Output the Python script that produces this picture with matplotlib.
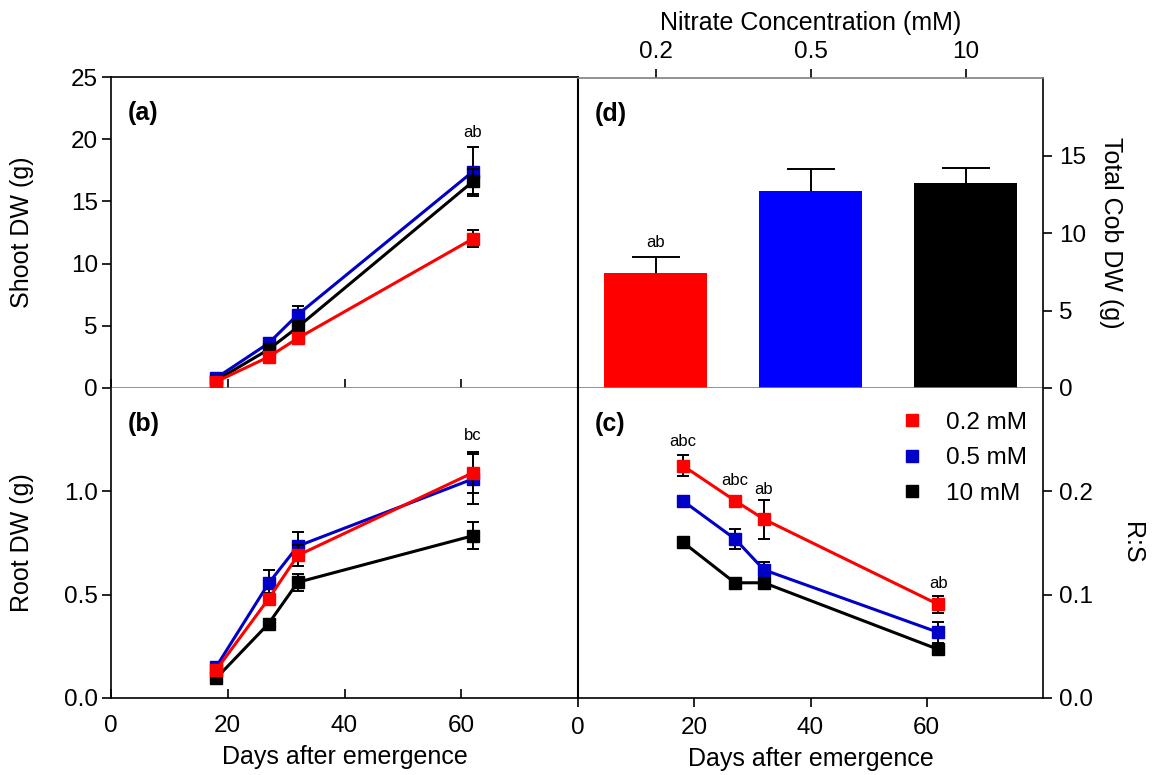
import matplotlib
matplotlib.use("Agg")
import matplotlib.pyplot as plt
from matplotlib.lines import Line2D

plt.rcParams['font.family'] = ['Liberation Sans', 'DejaVu Sans']

# ---------------- data ----------------
days = [18, 27, 32, 62]
series_labels = ['0.2 mM', '0.5 mM', '10 mM']
line_colors = ['#FF0000', '#0000C8', '#000000']

shoot_red = [0.5, 2.5, 4.0, 12.0]
shoot_red_err = [0.1, 0.3, 0.3, 0.7]
shoot_blue = [0.8, 3.6, 5.9, 17.4]
shoot_blue_err = [0.1, 0.3, 0.7, 2.0]
shoot_black = [0.6, 3.1, 4.9, 16.6]
shoot_black_err = [0.1, 0.3, 0.5, 1.0]

root_red = [0.135, 0.48, 0.69, 1.09]
root_red_err = [0.02, 0.03, 0.05, 0.10]
root_blue = [0.15, 0.555, 0.735, 1.06]
root_blue_err = [0.02, 0.065, 0.07, 0.12]
root_black = [0.095, 0.36, 0.56, 0.785]
root_black_err = [0.01, 0.02, 0.04, 0.065]

rs_red = [0.225, 0.191, 0.173, 0.0905]
rs_red_err = [0.01, 0.004, 0.019, 0.008]
rs_blue = [0.191, 0.154, 0.124, 0.0635]
rs_blue_err = [0.003, 0.01, 0.008, 0.01]
rs_black = [0.151, 0.1115, 0.1115, 0.047]
rs_black_err = [0.003, 0.003, 0.003, 0.005]

conc_labels = ['0.2', '0.5', '10']
cob_values = [7.45, 12.7, 13.2]
cob_err = [1.0, 1.4, 1.0]
bar_colors = ['#FF0000', '#0000FF', '#000000']

# significance letters: (x, y, text)
shoot_letters = [(62, 20.5, 'ab')]
root_letters = [(62, 1.27, 'bc')]
rs_letters = [(18, 0.248, 'abc'), (27, 0.21, 'abc'), (32, 0.202, 'ab'), (62, 0.111, 'ab')]
cob_letters = [(0, 9.4, 'ab')]

# ---------------- figure ----------------
W, H = 1160, 775
fig = plt.figure(figsize=(W / 100, H / 100), dpi=100)

def box(l, r, t, b):
    return [l / W, 1 - b / H, (r - l) / W, (b - t) / H]

ax_a = fig.add_axes(box(111, 578, 77, 388))
ax_b = fig.add_axes(box(111, 578, 388, 698))
ax_d = fig.add_axes(box(578, 1043, 78, 388))
ax_c = fig.add_axes(box(578, 1043, 388, 698))

FS = 18      # axis labels
TS = 17.5    # tick labels
LW = 2.2
MS = 9

def draw_lines(ax, vals, errs):
    orders = [5, 3, 4]  # red on top, then black, then blue
    for v, e, c, z in zip(vals, errs, line_colors, orders):
        ax.errorbar(days, v, yerr=e, fmt='none', ecolor='black', elinewidth=1.4,
                    capsize=4.5, capthick=1.4, zorder=z - 0.5)
        ax.plot(days, v, color=c, lw=LW, marker='s', ms=MS, mec=c, mfc=c, zorder=z)

draw_lines(ax_a, [shoot_red, shoot_blue, shoot_black],
           [shoot_red_err, shoot_blue_err, shoot_black_err])
draw_lines(ax_b, [root_red, root_blue, root_black],
           [root_red_err, root_blue_err, root_black_err])
draw_lines(ax_c, [rs_red, rs_blue, rs_black],
           [rs_red_err, rs_blue_err, rs_black_err])

for ax, letters in [(ax_a, shoot_letters), (ax_b, root_letters), (ax_c, rs_letters)]:
    for x, y, t in letters:
        ax.text(x, y, t, ha='center', va='center', fontsize=12)

# --- panel a ---
ax_a.set_xlim(0, 80)
ax_a.set_ylim(0, 25)
ax_a.set_yticks([0, 5, 10, 15, 20, 25])
ax_a.set_xticks([0, 20, 40, 60])
ax_a.tick_params(axis='x', direction='in', length=6.5, width=1.2, labelbottom=False)
ax_a.tick_params(axis='y', direction='out', length=6.5, width=1.2, labelsize=TS, pad=3)
ax_a.set_ylabel('Shoot DW (g)', fontsize=FS)
ax_a.yaxis.set_label_coords(-0.165, 0.5)
ax_a.spines['bottom'].set_color('#7f7f7f')

# --- panel b ---
ax_b.set_xlim(0, 80)
ax_b.set_ylim(0, 1.5)
ax_b.set_yticks([0.0, 0.5, 1.0])
ax_b.set_yticklabels(['0.0', '0.5', '1.0'])
ax_b.set_xticks([0, 20, 40, 60])
ax_b.tick_params(axis='x', direction='in', length=6.5, width=1.2, labelsize=TS, pad=12)
ax_b.tick_params(axis='y', direction='out', length=6.5, width=1.2, labelsize=TS, pad=3)
ax_b.set_ylabel('Root DW (g)', fontsize=FS)
ax_b.yaxis.set_label_coords(-0.165, 0.5)
ax_b.set_xlabel('Days after emergence', fontsize=FS, labelpad=6)
ax_b.spines['top'].set_visible(False)

# --- panel c ---
ax_c.set_xlim(0, 80)
ax_c.set_ylim(0, 0.3)
ax_c.set_xticks([0, 20, 40, 60])
ax_c.set_yticks([0.0, 0.1, 0.2])
ax_c.set_yticklabels(['0.0', '0.1', '0.2'])
ax_c.yaxis.tick_right()
ax_c.yaxis.set_label_position('right')
ax_c.tick_params(axis='x', direction='out', length=6.5, width=1.2, labelsize=TS, pad=7)
ax_c.tick_params(axis='y', direction='out', length=6.5, width=1.2, labelsize=TS, pad=5)
ax_c.set_ylabel('R:S', fontsize=FS, rotation=270, va='bottom')
ax_c.yaxis.set_label_coords(1.165, 0.5)
ax_c.set_xlabel('Days after emergence', fontsize=FS, labelpad=6)
ax_c.spines['top'].set_visible(False)
ax_c.spines['left'].set_linewidth(1.5)

handles = [Line2D([], [], ls='none', marker='s', ms=8, mfc=c, mec=c) for c in line_colors]
ax_c.legend(handles, series_labels, loc='upper right', bbox_to_anchor=(0.997, 0.97),
            frameon=False, fontsize=TS, handlelength=1.0, handletextpad=0.9,
            labelspacing=0.55, borderaxespad=0.2)

# --- panel d ---
xpos = list(range(len(cob_values)))
ax_d.bar(xpos, cob_values, width=0.66, color=bar_colors, zorder=2)
eb = ax_d.errorbar(xpos, cob_values, yerr=[[0] * len(cob_err), cob_err], fmt='none',
                   ecolor='black', elinewidth=1.4, capsize=17, capthick=1.4, zorder=1)
# keep only the upper caps (one-sided error bars)
for cl in eb[1]:
    if list(cl.get_ydata()) == list(cob_values):
        cl.set_visible(False)
for x, y, t in cob_letters:
    ax_d.text(x, y, t, ha='center', va='center', fontsize=12)
ax_d.set_xlim(-0.5, 2.5)
ax_d.set_ylim(0, 20)
ax_d.set_yticks([0, 5, 10, 15])
ax_d.yaxis.tick_right()
ax_d.yaxis.set_label_position('right')
ax_d.xaxis.tick_top()
ax_d.xaxis.set_label_position('top')
ax_d.set_xticks(xpos)
ax_d.set_xticklabels(conc_labels)
ax_d.tick_params(axis='x', direction='out', length=6.5, width=1.2, labelsize=TS, pad=4)
ax_d.tick_params(axis='y', direction='out', length=6.5, width=1.2, labelsize=TS, pad=5)
ax_d.set_xlabel('Nitrate Concentration (mM)', fontsize=FS, labelpad=8)
ax_d.set_ylabel('Total Cob DW (g)', fontsize=FS, rotation=270, va='bottom')
ax_d.yaxis.set_label_coords(1.12, 0.5)
ax_d.spines['top'].set_color('#7f7f7f')
ax_d.spines['bottom'].set_color('#7f7f7f')
ax_d.spines['left'].set_linewidth(1.5)

for ax in (ax_a, ax_b, ax_c, ax_d):
    for s in ax.spines.values():
        if s.get_linewidth() < 1.5:
            s.set_linewidth(1.2)

# panel letters
for ax, t in [(ax_a, '(a)'), (ax_b, '(b)'), (ax_c, '(c)'), (ax_d, '(d)')]:
    ax.text(0.035, 0.885, t, transform=ax.transAxes, fontsize=18, fontweight='bold',
            ha='left', va='center')

fig.savefig('out.png', dpi=100)
